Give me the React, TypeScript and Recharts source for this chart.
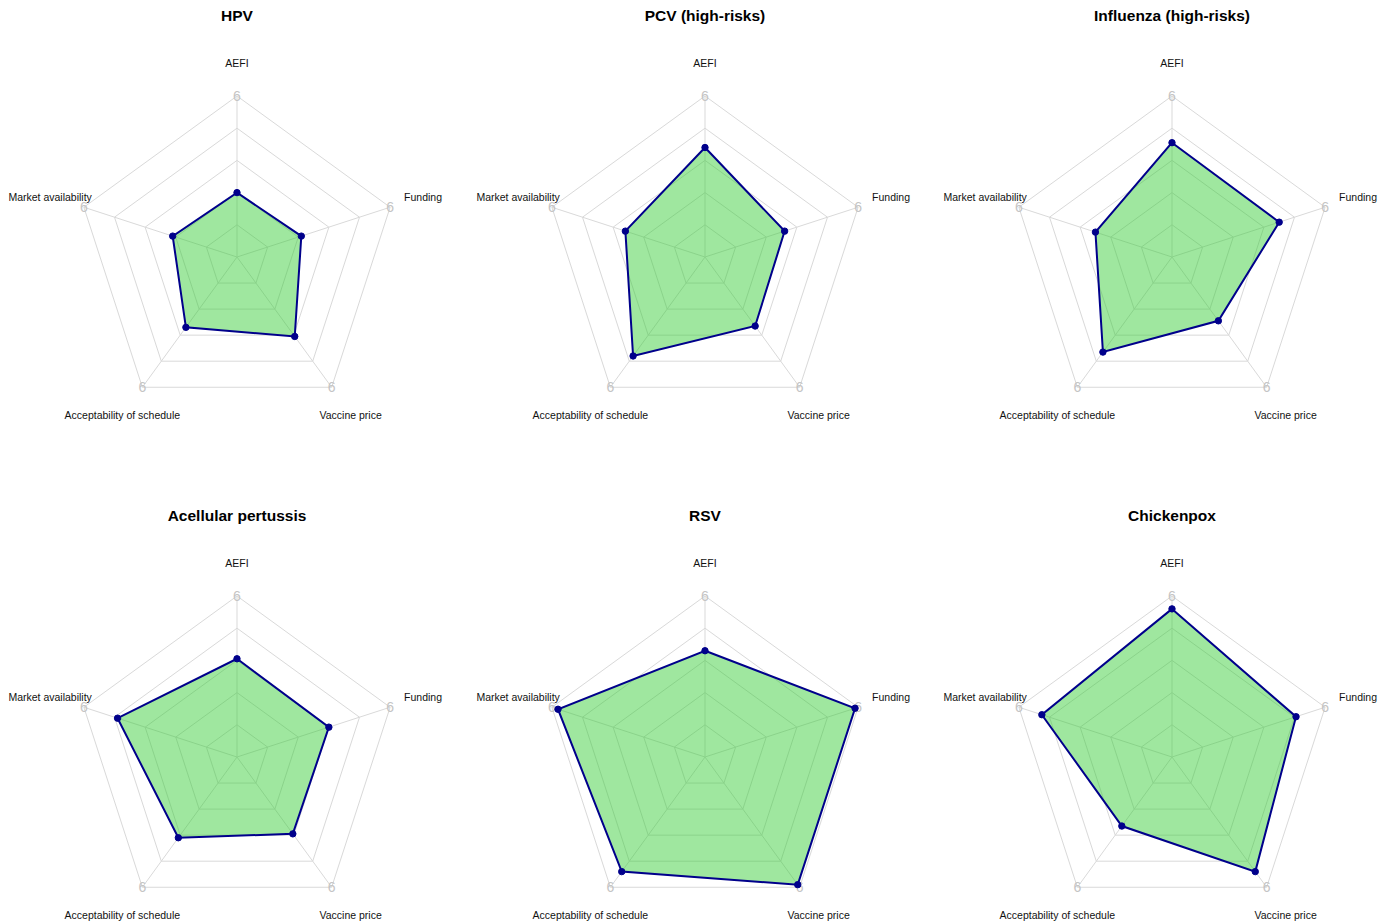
import { RadarChart, Radar, PolarGrid, PolarAngleAxis, PolarRadiusAxis } from "recharts";

// axis order, clockwise from the top
const axes = ["AEFI", "Funding", "Vaccine price", "Acceptability of schedule", "Market availability"];

const titles = ["HPV", "PCV (high-risks)", "Influenza (high-risks)", "Acellular pertussis", "RSV", "Chickenpox"];

const hpv = [3.0, 3.1, 4.05, 3.7, 3.1];
const pcv = [4.4, 3.6, 3.65, 4.8, 3.6];
const influenza = [4.55, 4.5, 3.45, 4.65, 3.5];
const pertussis = [4.05, 4.0, 3.95, 4.1, 4.9];
const rsv = [4.3, 5.9, 5.9, 5.4, 5.8];
const chickenpox = [5.6, 5.05, 5.4, 3.65, 5.25];

const series = [hpv, pcv, influenza, pertussis, rsv, chickenpox];

const scaleMin = 1;
const scaleMax = 6;
const maxLabel = "6";

const PANEL_W = 450;
const PANEL_H = 424;
const CX = 237;
const CY = 257;
const R = 161;
const colLeft = [0, 468, 935];
const rowTop = [0, 500];

const FONT = "'Liberation Sans', Arial, sans-serif";

// where each axis name sits relative to its outer vertex
const labelPos = [
  { dx: 0, dy: -33, anchor: "middle" },
  { dx: 14, dy: -10, anchor: "start" },
  { dx: 19, dy: 28, anchor: "middle" },
  { dx: -20, dy: 28, anchor: "middle" },
  { dx: 8, dy: -10, anchor: "end" },
];

function AxisTick(props: any) {
  const { index, payload } = props;
  const a = ((90 - 72 * index) * Math.PI) / 180;
  const vx = CX + R * Math.cos(a);
  const vy = CY - R * Math.sin(a);
  const p = labelPos[index];
  return (
    <g>
      <text x={vx} y={vy} textAnchor="middle" dominantBaseline="central" fill="#c4c4c4" fontSize={14} fontFamily={FONT}>
        {maxLabel}
      </text>
      <text
        x={vx + p.dx}
        y={vy + p.dy}
        textAnchor={p.anchor}
        dominantBaseline="central"
        fill="#111"
        fontSize={10.5}
        fontFamily={FONT}
      >
        {payload.value}
      </text>
    </g>
  );
}

function Panel({ title, values, left, top }: { title: string; values: number[]; left: number; top: number }) {
  const data = axes.map((axis, i) => ({ axis, value: values[i] }));
  return (
    <div style={{ position: "absolute", left, top, width: PANEL_W, height: PANEL_H }}>
      <div
        style={{
          position: "absolute",
          left: 0,
          top: 6,
          width: CX * 2,
          textAlign: "center",
          fontFamily: FONT,
          fontWeight: "bold",
          fontSize: 15.5,
          lineHeight: "20px",
          color: "#000",
        }}
      >
        {title}
      </div>
      <RadarChart
        width={PANEL_W}
        height={PANEL_H}
        data={data}
        cx={CX}
        cy={CY}
        outerRadius={R}
        margin={{ top: 0, right: 0, bottom: 0, left: 0 }}
      >
        <PolarGrid gridType="polygon" stroke="#d9d9d9" strokeWidth={1} />
        <PolarRadiusAxis domain={[scaleMin, scaleMax]} tickCount={6} tick={false} axisLine={false} />
        <PolarAngleAxis dataKey="axis" tick={<AxisTick />} tickLine={false} axisLine={false} />
        <Radar
          dataKey="value"
          stroke="#00008b"
          strokeWidth={2}
          fill="#32cd32"
          fillOpacity={0.47}
          dot={{ r: 3.2, fill: "#00008b", fillOpacity: 1, stroke: "#00008b", strokeWidth: 1 }}
          isAnimationActive={false}
        />
      </RadarChart>
    </div>
  );
}

export default function App() {
  return (
    <div
      style={{
        position: "absolute",
        left: 0,
        top: 0,
        width: 1389,
        height: 924,
        overflow: "hidden",
        background: "#fff",
      }}
    >
      {series.map((values, i) => (
        <Panel key={titles[i]} title={titles[i]} values={values} left={colLeft[i % 3]} top={rowTop[Math.floor(i / 3)]} />
      ))}
    </div>
  );
}
